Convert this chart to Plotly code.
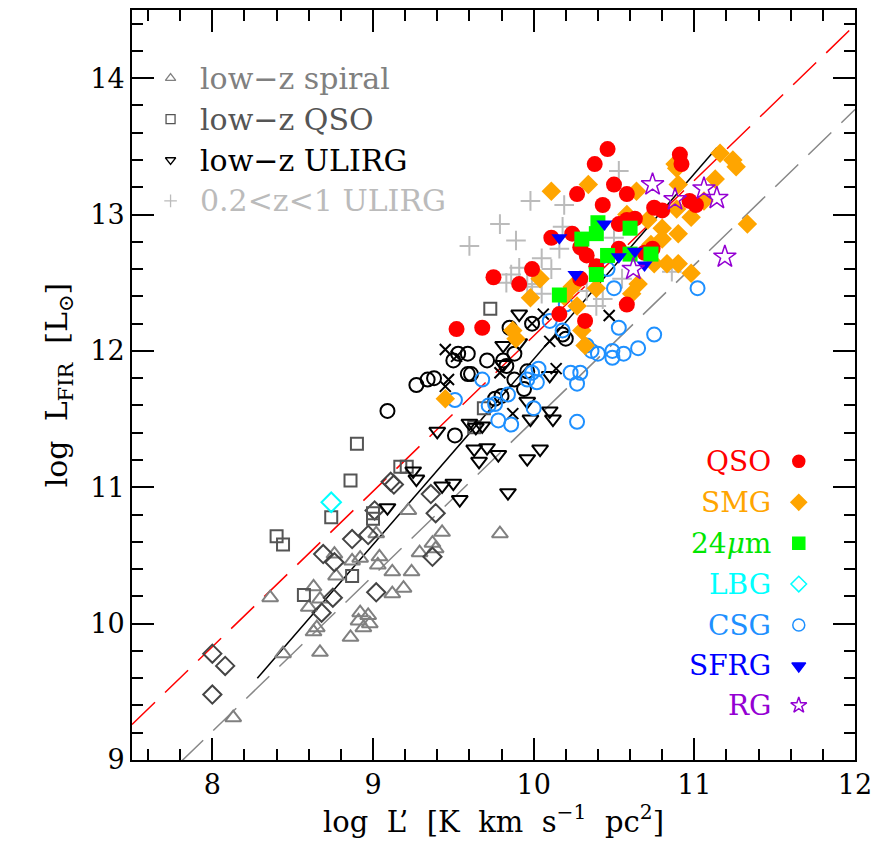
import plotly.graph_objects as go

# ---- data (log L' , log L_FIR) ----
spiral_x = [8.36, 8.63, 8.60, 8.67, 8.76, 8.77, 8.87, 8.92, 9.02, 9.04, 9.03, 9.12, 9.24, 9.29, 9.37,
            9.39, 9.43, 9.12, 9.19, 8.92, 8.97, 8.91, 8.98, 8.94, 8.86, 8.63, 8.65, 8.67, 8.44, 8.13,
            9.22, 9.79]
spiral_y = [10.19, 10.27, 10.12, 10.18, 10.51, 10.35, 10.46, 10.48, 10.66, 10.49, 10.43, 10.38, 10.38, 10.52, 10.59,
            10.55, 10.67, 10.22, 10.26, 10.08, 10.06, 10.02, 10.00, 9.97, 9.90, 9.94, 9.97, 9.79, 9.78, 9.31,
            10.83, 10.66]

lowq_x = [8.90, 8.86, 8.74, 8.40, 8.44, 9.00, 9.00, 9.17, 9.21, 8.87, 8.57, 9.73, 9.69, 9.63]
lowq_y = [11.32, 11.05, 10.78, 10.64, 10.58, 10.81, 10.77, 11.15, 11.15, 10.35, 10.21, 12.31, 11.58, 11.44]

ulirg_x = [9.91, 9.81, 9.91, 9.81, 10.10, 9.96, 10.10, 10.12, 9.98, 9.60, 9.64, 9.68, 9.40, 9.63,
           9.66, 9.71, 9.78, 9.96, 10.04, 9.25, 9.27, 9.43, 9.50, 9.54, 9.84, 9.09]
ulirg_y = [12.27, 12.04, 12.06, 11.90, 11.82, 11.63, 11.56, 11.50, 11.50, 11.47, 11.44, 11.45, 11.41, 11.28,
           11.19, 11.29, 11.24, 11.21, 11.28, 11.12, 11.06, 11.01, 11.03, 10.91, 10.96, 10.85]

midz_x = [10.53, 9.98, 10.19, 9.79, 9.89, 9.60, 10.18, 10.16, 10.05, 10.11, 9.91, 9.83, 9.86, 9.99,
          10.05, 10.43, 10.39, 10.50, 10.33, 10.86, 10.55, 9.96]
midz_y = [13.32, 13.10, 13.07, 12.93, 12.81, 12.77, 12.91, 12.75, 12.68, 12.60, 12.61, 12.50, 12.56, 12.47,
          12.42, 12.38, 12.33, 12.83, 12.44, 12.58, 12.53, 12.49]

circ_x = [9.09, 9.27, 9.34, 9.38, 9.50, 9.53, 9.59, 9.71, 9.81, 9.59, 9.61, 9.83, 9.88, 9.85, 9.99,
          10.18, 10.20, 9.88, 9.94, 9.76, 9.51, 9.96, 9.80]
circ_y = [11.56, 11.75, 11.79, 11.80, 11.93, 11.98, 11.98, 11.93, 11.93, 11.83, 11.83, 11.89, 11.98, 12.17, 12.20,
          12.12, 12.09, 11.79, 11.72, 11.65, 11.38, 11.85, 11.67]

cross_x = [9.45, 9.52, 9.47, 9.45, 9.79, 10.06, 10.10, 10.14, 9.87, 10.47, 9.99]
cross_y = [12.01, 11.96, 11.79, 11.74, 11.84, 12.27, 12.07, 11.87, 11.54, 12.26, 12.20]

diam_x = [8.00, 8.08, 8.00, 8.69, 8.76, 8.87, 8.97, 8.75, 9.02, 8.68, 9.01, 9.11, 9.13, 9.36, 9.39, 9.37]
diam_y = [9.78, 9.69, 9.48, 10.51, 10.45, 10.62, 10.65, 10.19, 10.23, 10.08, 10.83, 11.04, 11.02, 10.95, 10.81, 10.49]

csg_x = [10.46, 10.50, 11.02, 10.20, 10.10, 10.18, 10.53, 10.75, 10.65, 10.33, 10.36, 10.40, 10.49, 10.49,
         10.56, 10.03, 10.23, 10.29, 10.27, 9.68, 9.84, 9.99, 10.02, 9.96, 9.72, 9.76, 9.78, 9.86, 10.00,
         10.27, 9.51]
csg_y = [12.60, 12.46, 12.46, 12.34, 12.22, 12.15, 12.17, 12.12, 12.02, 12.04, 12.00, 11.98, 12.00, 11.95,
         11.98, 11.87, 11.84, 11.84, 11.76, 11.79, 11.68, 11.84, 11.77, 11.79, 11.60, 11.61, 11.49, 11.46, 11.58,
         11.48, 11.64]

smg_x = [11.16, 11.24, 11.26, 11.13, 11.33, 10.88, 10.89, 10.90, 10.64, 10.71, 10.89, 10.98, 11.06, 10.80,
         10.90, 10.80, 10.98, 10.90, 10.83, 10.75, 10.73, 10.65, 10.61, 10.11, 10.34, 10.58, 10.24, 10.39,
         10.04, 9.98, 10.19, 9.87, 9.89, 10.30, 10.32, 9.45, 10.27]
smg_y = [13.45, 13.40, 13.35, 13.26, 12.93, 13.37, 13.34, 13.22, 13.17, 12.96, 13.04, 12.98, 13.10, 12.90,
         12.86, 12.82, 12.57, 12.64, 12.64, 12.64, 12.78, 12.49, 12.42, 13.17, 13.22, 13.00, 12.47, 12.46,
         12.53, 12.39, 12.40, 12.15, 12.09, 12.15, 12.04, 11.65, 12.33]

qso_x = [10.46, 10.38, 10.91, 10.92, 10.27, 10.50, 10.58, 10.43, 10.75, 10.80, 10.97, 11.01, 10.63, 10.58,
         10.53, 10.11, 10.24, 10.29, 10.33, 10.53, 10.74, 10.69, 10.39, 10.29, 9.99, 9.91, 10.58, 10.32,
         9.75, 10.16, 9.52, 9.68]
qso_y = [13.48, 13.37, 13.44, 13.37, 13.15, 13.22, 13.15, 13.07, 13.05, 13.03, 13.10, 13.07, 12.97, 12.96,
         12.93, 12.83, 12.86, 12.76, 12.70, 12.75, 12.75, 12.72, 12.62, 12.53, 12.60, 12.49, 12.34, 12.22,
         12.54, 12.27, 12.16, 12.17]

mips_x = [10.16, 10.39, 10.39, 10.40, 10.30, 10.46, 10.60, 10.60, 10.73]
mips_y = [12.41, 12.56, 12.86, 12.94, 12.82, 12.70, 12.90, 12.71, 12.71]

lbg_x = [8.74]
lbg_y = [10.89]

sfrg_x = [10.16, 10.44, 10.26, 10.53, 10.63, 10.69]
sfrg_y = [12.83, 12.93, 12.56, 12.69, 12.73, 12.63]

rg_x = [10.74, 10.88, 11.06, 11.14, 11.19, 10.62]
rg_y = [13.22, 13.11, 13.19, 13.12, 12.69, 12.60]

# relations
red_fit = (1.14, 0.71)      # slope, intercept
gray_fit = (1.14, 0.09)
black_x = [8.28, 11.14]
black_y = [9.60, 13.49]

FONT = "DejaVu Serif"

fig = go.Figure()


def pts(x, y, symbol, color, size, width=2):
    fig.add_trace(go.Scatter(x=x, y=y, mode="markers", showlegend=False, hoverinfo="skip",
                             marker=dict(symbol=symbol, color=color, size=size,
                                         line=dict(color=color, width=width))))


# fit lines
lx = [7.5, 12.0]
fig.add_trace(go.Scatter(x=lx, y=[red_fit[0] * v + red_fit[1] for v in lx], mode="lines",
                         line=dict(color="red", width=1.5, dash="32px,14px"), showlegend=False))
gx = [7.8, 12.0]
fig.add_trace(go.Scatter(x=gx, y=[gray_fit[0] * v + gray_fit[1] for v in gx], mode="lines",
                         line=dict(color="#888888", width=1.5, dash="32px,14px"), showlegend=False))
fig.add_trace(go.Scatter(x=black_x, y=black_y, mode="lines",
                         line=dict(color="black", width=1.5), showlegend=False))

# low-z samples
pts(spiral_x, spiral_y, "triangle-up-open", "#808080", 14)
pts(diam_x, diam_y, "diamond-open", "#444444", 14)
pts(lowq_x, lowq_y, "square-open", "#555555", 12)
pts(ulirg_x, ulirg_y, "triangle-down-open", "black", 14)
pts(circ_x, circ_y, "circle-open", "black", 14)
pts(cross_x, cross_y, "x-thin-open", "black", 11)
pts(midz_x, midz_y, "cross-thin-open", "#bbbbbb", 14)

# high-z samples
pts(csg_x, csg_y, "circle-open", "#1e90ff", 14)
pts(lbg_x, lbg_y, "diamond-open", "#00ffff", 15)
pts(smg_x, smg_y, "diamond", "#ffa500", 15, 0)
pts(qso_x, qso_y, "circle", "#ff0000", 16, 0)
pts(mips_x, mips_y, "square", "#00ff00", 15, 0)
pts(sfrg_x, sfrg_y, "triangle-down", "#0000ff", 14, 0)
pts(rg_x, rg_y, "star-open", "#9400d3", 17, 1.5)

# top-left key
tl_names = ["low−z spiral", "low−z QSO", "low−z ULIRG", "0.2&lt;z&lt;1 ULIRG"]
tl_cols = ["#808080", "#555555", "black", "#bbbbbb"]
tl_syms = ["triangle-up-open", "square-open", "triangle-down-open", "cross-thin-open"]
tl_y = [14.0, 13.7, 13.4, 13.1]
for n, c, s, yy in zip(tl_names, tl_cols, tl_syms, tl_y):
    pts([7.74], [yy], s, c, 9, 1.3)
    fig.add_annotation(x=7.91, y=yy, text=n, showarrow=False, xanchor="left", yanchor="middle",
                       font=dict(family=FONT, size=30, color=c))

# bottom-right key
br_names = ["QSO", "SMG", "24<i>μ</i>m", "LBG", "CSG", "SFRG", "RG"]
br_cols = ["#ff0000", "#ffa500", "#00e600", "#00ffff", "#1e90ff", "#0000ff", "#9400d3"]
br_syms = ["circle", "diamond", "square", "diamond-open", "circle-open", "triangle-down", "star-open"]
br_y = [11.19, 10.89, 10.59, 10.29, 9.99, 9.69, 9.40]
for n, c, s, yy in zip(br_names, br_cols, br_syms, br_y):
    mc = "#00ff00" if s == "square" else c
    pts([11.65], [yy], s, mc, 12, 1.5)
    fig.add_annotation(x=11.49, y=yy, text=n, showarrow=False, xanchor="right", yanchor="middle",
                       font=dict(family=FONT, size=28, color=c))

axis_common = dict(showgrid=False, zeroline=False, showline=True, linecolor="black", linewidth=2,
                   mirror="allticks", ticks="inside", ticklen=22, tickwidth=1.5, tickcolor="black",
                   tickfont=dict(family=FONT, size=27, color="black"),
                   minor=dict(ticks="inside", ticklen=11, tickwidth=1.5, tickcolor="black", dtick=0.2))

# the page body adds an 8px offset, margins are set so the frame lands where the original one is
fig.update_layout(
    width=881, height=856,
    margin=dict(l=124, r=34, t=0, b=104),
    paper_bgcolor="white", plot_bgcolor="white",
    font=dict(family=FONT, color="black"),
    xaxis=dict(range=[7.5, 12], dtick=1, tick0=0,
               title=dict(text="log  L’  [K  km  s<sup>−1</sup>  pc<sup>2</sup>]",
                          font=dict(family=FONT, size=29), standoff=10),
               **axis_common),
    yaxis=dict(range=[9, 14.5], dtick=1, tick0=0,
               title=dict(text="log  L<sub>FIR</sub>  [L<sub>⊙</sub>]",
                          font=dict(family=FONT, size=30), standoff=14),
               **axis_common),
)

fig.write_html("out.html")
